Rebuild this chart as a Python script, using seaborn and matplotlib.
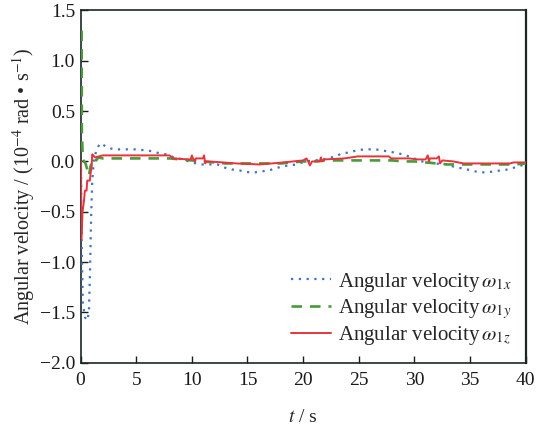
import numpy as np
import pandas as pd
import matplotlib
matplotlib.use("Agg")
import matplotlib.pyplot as plt
import seaborn as sns

# angular velocity, 10^-4 rad/s
t_x = [0.03, 0.1, 0.2, 0.4, 0.6, 0.75, 0.85, 0.95, 1.05, 1.2, 1.45, 1.75, 2.1, 2.6,
       3.2, 4, 5, 5.8, 6.5, 7.1, 7.7, 8.4, 9.2, 10, 10.8, 11.6, 12.3, 12.9, 13.6,
       14.3, 14.9, 15.6, 16.2, 16.9, 17.5, 18.1, 18.7, 19.4, 20.2, 21, 21.8, 22.9,
       23.5, 24.2, 24.8, 25.5, 26.5, 27.6, 28.6, 29.5, 30.7, 31.8, 33, 33.7, 34.4,
       35.1, 35.7, 36.4, 37.1, 37.7, 38.4, 39, 39.6, 40]
w_x = [0, -0.8, -1.4, -1.55, -1.58, -1.5, -1.1, -0.55, -0.2, 0.02, 0.12, 0.18, 0.16, 0.13,
       0.12, 0.12, 0.12, 0.11, 0.1, 0.08, 0.07, 0.04, 0.02, -0.01, -0.03, -0.03, -0.03, -0.06, -0.08,
       -0.09, -0.105, -0.11, -0.1, -0.09, -0.07, -0.05, -0.04, -0.03, 0.0, 0.01, 0.02, 0.05,
       0.08, 0.09, 0.11, 0.12, 0.12, 0.1, 0.08, 0.05, 0.0, -0.02, -0.03, -0.06, -0.07,
       -0.09, -0.105, -0.11, -0.1, -0.09, -0.08, -0.06, -0.04, -0.03]

t_y = [0.1, 0.12, 0.2, 0.3, 0.45, 0.6, 0.75, 0.9, 1.1, 1.4, 1.6, 2, 4, 6, 8, 9, 10, 11,
       12, 13, 14, 16, 18, 19, 20, 21, 22, 23, 24, 26, 28, 29, 30, 31, 32, 33, 34, 36,
       38, 39, 40]
w_y = [1.3, 0.3, 0.02, 0.0, -0.02, -0.08, -0.14, -0.05, 0.03, 0.01, 0.04, 0.03, 0.03,
       0.03, 0.03, 0.02, 0.01, 0.0, -0.01, -0.02, -0.02, -0.02, -0.02, -0.01, 0.0, 0.0,
       0.01, 0.01, 0.01, 0.01, 0.01, 0.0, 0.0, -0.01, -0.02, -0.03, -0.03, -0.03, -0.03,
       -0.03, -0.02]

t_z = [0.05, 0.06, 0.09, 0.18, 0.3, 0.39, 0.54, 0.6, 0.84, 0.9, 0.99, 1.05, 1.14, 1.3, 2.0,
       8.0, 8.3, 9.7, 9.9, 10.0, 10.1, 10.3, 10.35, 11.0, 11.1, 11.2, 11.3, 12.2, 14.0,
       16.1, 17.9, 19.1, 20.0, 20.3, 20.5, 20.6, 20.8, 21.5, 21.6, 21.7, 21.9, 23.7, 24.9,
       27.7, 27.9, 29.5, 30.3, 31.0, 31.2, 31.3, 31.4, 32.0, 32.2, 32.3, 32.5, 33.5, 34.4,
       38.6, 38.9, 40]
w_z = [0, -0.78, -0.73, -0.5, -0.4, -0.29, -0.29, -0.19, -0.19, -0.12, -0.06, 0.07, 0.06,
       0.04, 0.06, 0.06, 0.03, 0.02, 0.02, 0.06, 0.03, 0.0, 0.03, 0.03, 0.06, -0.02, 0.0,
       -0.005, -0.02, -0.03, -0.013, 0.0, 0.01, 0.03, -0.01, -0.04, 0.0, 0.0, 0.04, 0.0,
       0.02, 0.03, 0.05, 0.05, 0.03, 0.03, 0.02, 0.02, 0.06, 0.0, 0.03, 0.03, 0.05, -0.02,
       0.01, 0.0, -0.02, -0.02, -0.01, -0.01]

labels = [r"Angular velocity$\,\omega_{\mathrm{1}x}$",
          r"Angular velocity$\,\omega_{\mathrm{1}y}$",
          r"Angular velocity$\,\omega_{\mathrm{1}z}$"]
colors = ["#3f72c8", "#4a9a3c", "#e8333b"]
styles = [(0, (1, 2.5)), (0, (4, 3)), "-"]
widths = [1.6, 1.9, 1.4]

sns.set_theme(style="ticks")
plt.rcParams["font.family"] = ["Liberation Serif", "DejaVu Serif"]
plt.rcParams["mathtext.fontset"] = "stix"

fig = plt.figure(figsize=(5.37, 4.28), dpi=100)
ax = fig.add_axes([0.150, 0.1526, 0.829, 0.8229])

series = [(t_x, w_x), (t_y, w_y), (t_z, w_z)]
for (tt, ww), lab, c, ls, lw in zip(series, labels, colors, styles, widths):
    df = pd.DataFrame({"t": tt, "w": ww})
    sns.lineplot(data=df, x="t", y="w", ax=ax, sort=False, estimator=None,
                 color=c, linestyle=ls, linewidth=lw, label=lab, zorder=3)

ax.set_xlim(0, 40)
ax.set_ylim(-2.0, 1.5)
ax.set_xticks(np.arange(0, 41, 5))
ax.set_yticks(np.arange(-2.0, 1.51, 0.5))
ax.set_yticklabels([f"{v:.1f}".replace("-", "\u2212") for v in np.arange(-2.0, 1.51, 0.5)])
ax.tick_params(direction="in", length=5, width=1, labelsize=14, colors="#1a1a1a",
               top=False, right=False, pad=4)
ax.tick_params(axis="x", pad=7)
for side, sp in ax.spines.items():
    sp.set_color("#1a2626")
    sp.set_linewidth(1.6 if side == "right" else 1.2)

ax.set_xlabel(r"$t$ / s", fontsize=14, labelpad=14)
ax.set_ylabel(r"Angular velocity / (10$^{-4}$ rad • s$^{-1}$)", fontsize=14.5, labelpad=2)

leg = ax.legend(loc="lower right", bbox_to_anchor=(0.968, 0.045), frameon=False,
                fontsize=15, handlelength=1.9, labelspacing=0.15, handletextpad=0.35,
                borderaxespad=0, borderpad=0)

fig.savefig("out.png", dpi=100)
